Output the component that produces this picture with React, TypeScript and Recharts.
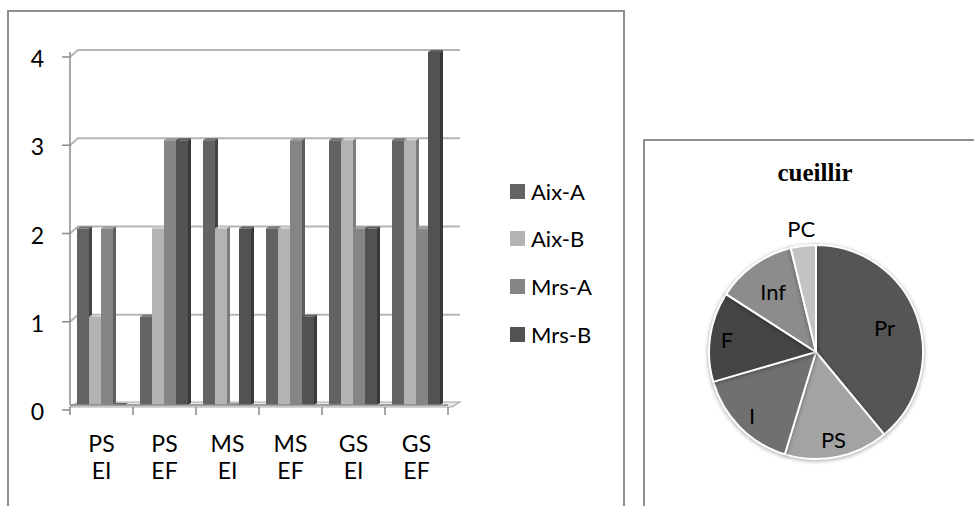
import { Bar, BarChart, CartesianGrid, Cell, Pie, PieChart, XAxis, YAxis } from "recharts";

const categories = ["PS EI", "PS EF", "MS EI", "MS EF", "GS EI", "GS EF"];
const aixA = [2, 1, 3, 2, 3, 3];
const aixB = [1, 2, 2, 2, 3, 3];
const mrsA = [2, 3, 0, 3, 2, 2];
const mrsB = [0, 3, 2, 1, 2, 4];
const yTicks = [0, 1, 2, 3, 4];

const seriesNames = ["Aix-A", "Aix-B", "Mrs-A", "Mrs-B"];
const seriesColors = ["#636363", "#b3b3b3", "#858585", "#525252"];

const pieTitle = "cueillir";
const pieNames = ["Pr", "PS", "I", "F", "Inf", "PC"];
const pieValues = [39, 15.7, 15.8, 13.6, 12.1, 3.8];
const pieColors = ["#555555", "#a3a3a3", "#707070", "#454545", "#8c8c8c", "#c3c3c3"];

const barData = categories.map((name, i) => ({
  name,
  aixA: aixA[i],
  aixB: aixB[i],
  mrsA: mrsA[i],
  mrsB: mrsB[i],
}));
const seriesKeys = ["aixA", "aixB", "mrsA", "mrsB"];

const pieData = pieNames.map((name, i) => ({ name, value: pieValues[i] }));

const FONT = "Lato, 'Open Sans', sans-serif";
const PLOT_LEFT = 70;
const PLOT_BOTTOM = 405;
const BAND = 63;

// label distance from centre, as a share of the radius
const labelRadius: Record<string, number> = {
  Pr: 0.68,
  PS: 0.83,
  I: 0.84,
  F: 0.84,
  Inf: 0.69,
  PC: 1.16,
};

function shade(hex: string, f: number) {
  const n = parseInt(hex.slice(1), 16);
  const c = [(n >> 16) & 255, (n >> 8) & 255, n & 255].map((v) =>
    Math.max(0, Math.min(255, Math.round(v * f)))
  );
  return `rgb(${c[0]},${c[1]},${c[2]})`;
}

const Bar3D = (props: any) => {
  const { x, y, width, height, fill } = props;
  const d = 3;
  return (
    <g>
      <polygon
        points={`${x},${y} ${x + d},${y - 2} ${x + width + d},${y - 2} ${x + width},${y}`}
        fill={shade(fill, 1.15)}
      />
      <polygon
        points={`${x + width},${y} ${x + width + d},${y - 2} ${x + width + d},${y + height - 2} ${x + width},${y + height}`}
        fill={shade(fill, 0.7)}
      />
      <rect x={x} y={y} width={width} height={height} fill={fill} />
    </g>
  );
};

const GridLine = (props: any) => {
  const { x1, x2, y1, index } = props;
  if (Math.abs(y1 - PLOT_BOTTOM) < 3) {
    return (
      <polygon
        key={`floor-${index}`}
        points={`${x1},${y1 + 2} ${x1 + 8},${y1 - 3} ${x2 + 12},${y1 - 3} ${x2 + 4},${y1 + 2}`}
        fill="#e8e8e8"
        stroke="#a8a8a8"
        strokeWidth={1.2}
      />
    );
  }
  return (
    <polyline
      key={`grid-${index}`}
      points={`${x1},${y1 + 5} ${x1 + 8},${y1 - 2} ${x2 + 12},${y1 - 2}`}
      fill="none"
      stroke="#b5b5b5"
      strokeWidth={2}
    />
  );
};

const YTick = (props: any) => {
  const { x, y, payload } = props;
  return (
    <g>
      <line x1={PLOT_LEFT - 8} x2={PLOT_LEFT} y1={y + 5} y2={y + 5} stroke="#8a8a8a" strokeWidth={1.5} />
      <text x={x} y={y + 6} textAnchor="end" dominantBaseline="central" fontSize={23} fill="#000" fontFamily={FONT}>
        {payload.value}
      </text>
    </g>
  );
};

const XTick = (props: any) => {
  const { x, y, payload, index } = props;
  const [a, b] = String(payload.value).split(" ");
  const half = BAND / 2;
  return (
    <g>
      <line x1={x - half} x2={x - half} y1={y + 2} y2={y + 10} stroke="#8a8a8a" strokeWidth={1.5} />
      {index === categories.length - 1 && (
        <line x1={x + half} x2={x + half} y1={y + 2} y2={y + 10} stroke="#8a8a8a" strokeWidth={1.5} />
      )}
      <text x={x} y={y + 47} textAnchor="middle" fontSize={23} fill="#000" fontFamily={FONT}>
        {a}
      </text>
      <text x={x} y={y + 74} textAnchor="middle" fontSize={23} fill="#000" fontFamily={FONT}>
        {b}
      </text>
    </g>
  );
};

const RADIAN = Math.PI / 180;
const PieLabel = (props: any) => {
  const { cx, cy, midAngle, outerRadius, name } = props;
  const r = outerRadius * (labelRadius[name] ?? 0.75);
  const x = cx + r * Math.cos(-midAngle * RADIAN);
  const y = cy + r * Math.sin(-midAngle * RADIAN);
  return (
    <text x={x} y={y} textAnchor="middle" dominantBaseline="central" fontSize={22} fill="#000" fontFamily={FONT}>
      {name}
    </text>
  );
};

export default function App() {
  return (
    <div
      style={{
        position: "absolute",
        left: 0,
        top: 0,
        width: 974,
        height: 506,
        background: "#fff",
        overflow: "hidden",
      }}
    >
      {/* frame of the bar chart */}
      <div
        style={{
          position: "absolute",
          left: 7,
          top: 10,
          width: 614,
          height: 520,
          borderTop: "2px solid #8e8e8e",
          borderLeft: "2px solid #8e8e8e",
          borderRight: "2px solid #8e8e8e",
        }}
      />
      <div style={{ position: "absolute", left: 0, top: 0 }}>
        <BarChart
          width={623}
          height={506}
          data={barData}
          margin={{ top: 52, right: 175, bottom: 0, left: 0 }}
          barCategoryGap={7}
          barGap={0}
        >
          <CartesianGrid vertical={false} horizontal={GridLine} />
          <XAxis
            dataKey="name"
            height={101}
            tickLine={false}
            tickSize={0}
            tickMargin={0}
            axisLine={{ stroke: "#8a8a8a", strokeWidth: 1.5 }}
            tick={XTick}
            interval={0}
          />
          <YAxis
            width={70}
            domain={[0, 4]}
            ticks={yTicks}
            tickLine={false}
            tickSize={8}
            tickMargin={18}
            axisLine={{ stroke: "#8a8a8a", strokeWidth: 1.5 }}
            tick={YTick}
          />
          {seriesKeys.map((k, i) => (
            <Bar
              key={k}
              dataKey={k}
              name={seriesNames[i]}
              fill={seriesColors[i]}
              shape={Bar3D}
              isAnimationActive={false}
            />
          ))}
        </BarChart>
      </div>
      {/* legend */}
      {seriesNames.map((n, i) => (
        <div
          key={n}
          style={{
            position: "absolute",
            left: 510,
            top: 183 + i * 47.7,
            height: 16,
            display: "flex",
            alignItems: "center",
            fontFamily: FONT,
            fontSize: 22,
            color: "#000",
          }}
        >
          <span style={{ width: 15, height: 15, background: seriesColors[i], marginRight: 6 }} />
          <span>{n}</span>
        </div>
      ))}

      {/* frame of the pie chart */}
      <div
        style={{
          position: "absolute",
          left: 643,
          top: 139,
          width: 400,
          height: 400,
          borderTop: "2px solid #8e8e8e",
          borderLeft: "2px solid #8e8e8e",
        }}
      />
      <div
        style={{
          position: "absolute",
          left: 644,
          top: 159,
          width: 342,
          textAlign: "center",
          fontFamily: "'Liberation Serif', 'DejaVu Serif', serif",
          fontWeight: "bold",
          fontSize: 25,
          color: "#000",
        }}
      >
        {pieTitle}
      </div>
      <div style={{ position: "absolute", left: 644, top: 140 }}>
        <PieChart width={330} height={366} margin={{ top: 0, right: 0, bottom: 0, left: 0 }}>
          <Pie
            data={pieData}
            dataKey="value"
            nameKey="name"
            cx={172}
            cy={212}
            outerRadius={107}
            startAngle={90}
            endAngle={-270}
            stroke="#ffffff"
            strokeWidth={2}
            label={PieLabel}
            labelLine={false}
            isAnimationActive={false}
            style={{ filter: "drop-shadow(0px 1px 2px rgba(0,0,0,0.35))" }}
          >
            {pieData.map((d, i) => (
              <Cell key={d.name} fill={pieColors[i]} />
            ))}
          </Pie>
        </PieChart>
      </div>
    </div>
  );
}
